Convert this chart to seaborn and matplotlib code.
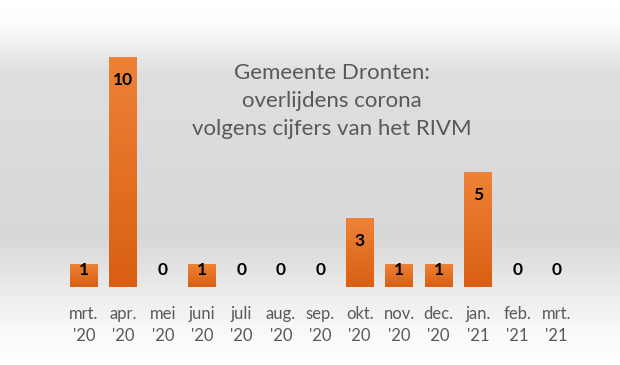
import numpy as np
import seaborn as sns
import matplotlib.pyplot as plt
from matplotlib.colors import LinearSegmentedColormap

# gegevens
maanden = ["mrt.\n'20", "apr.\n'20", "mei\n'20", "juni\n'20", "juli\n'20", "aug.\n'20",
           "sep.\n'20", "okt.\n'20", "nov.\n'20", "dec.\n'20", "jan.\n'21", "feb.\n'21",
           "mrt.\n'21"]
overlijdens = [1, 10, 0, 1, 0, 0, 0, 3, 1, 1, 5, 0, 0]
titel_regels = ["Gemeente Dronten:", "overlijdens corona", "volgens cijfers van het RIVM"]

sns.set_theme(style="white")
plt.rcParams['font.family'] = ['Lato', 'DejaVu Sans']

fig = plt.figure(figsize=(6.2, 3.65), dpi=100)

# achtergrond met verloop (wit - grijs - wit)
bg = fig.add_axes([0, 0, 1, 1], zorder=0)
rijen = np.linspace(0, 1, 365)
grijs = np.interp(rijen, [0, 0.06, 0.2, 0.65, 0.9, 1], [1.0, 0.99, 0.87, 0.845, 0.97, 1.0])
bg.imshow(grijs[:, None], cmap='gray', vmin=0, vmax=1, aspect='auto', extent=[0, 1, 0, 1])
bg.set_axis_off()

ax = fig.add_axes([0.1037, 0.2137, 0.826, 0.693], zorder=1)
ax.patch.set_alpha(0)

sns.barplot(x=maanden, y=overlijdens, color='#E46C1F', saturation=1, width=0.71,
            linewidth=0, ax=ax)

# oranje verloop in de staven
oranje = LinearSegmentedColormap.from_list('oranje', ['#D95F12', '#EE8236'])
verloop = np.linspace(0, 1, 100)[:, None]
for p in ax.patches:
    x, w, h = p.get_x(), p.get_width(), p.get_height()
    if h <= 0:
        continue
    im = ax.imshow(verloop, cmap=oranje, origin='lower', aspect='auto',
                   extent=[x, x + w, 0, h], zorder=p.get_zorder() + 0.1)
    im.set_clip_path(p)

for i, v in enumerate(overlijdens):
    ax.text(i, max(v - 1, 0.74), str(v), ha='center', va='center',
            fontsize=12.5, fontweight='bold', color='black', zorder=5)

ax.set_xlim(-0.5, len(maanden) - 0.5)
ax.set_ylim(0, 11)
ax.set_yticks([])
ax.tick_params(axis='x', length=0, labelsize=12, colors='#595959', pad=14)
for lbl in ax.get_xticklabels():
    lbl.set_linespacing(1.45)
sns.despine(ax=ax, left=True, bottom=True)

fig.text(0.535, 1 - 101 / 365, "\n".join(titel_regels), ha='center', va='center',
         fontsize=16, color='#595959', linespacing=1.5)

fig.savefig('out.png', dpi=100)
